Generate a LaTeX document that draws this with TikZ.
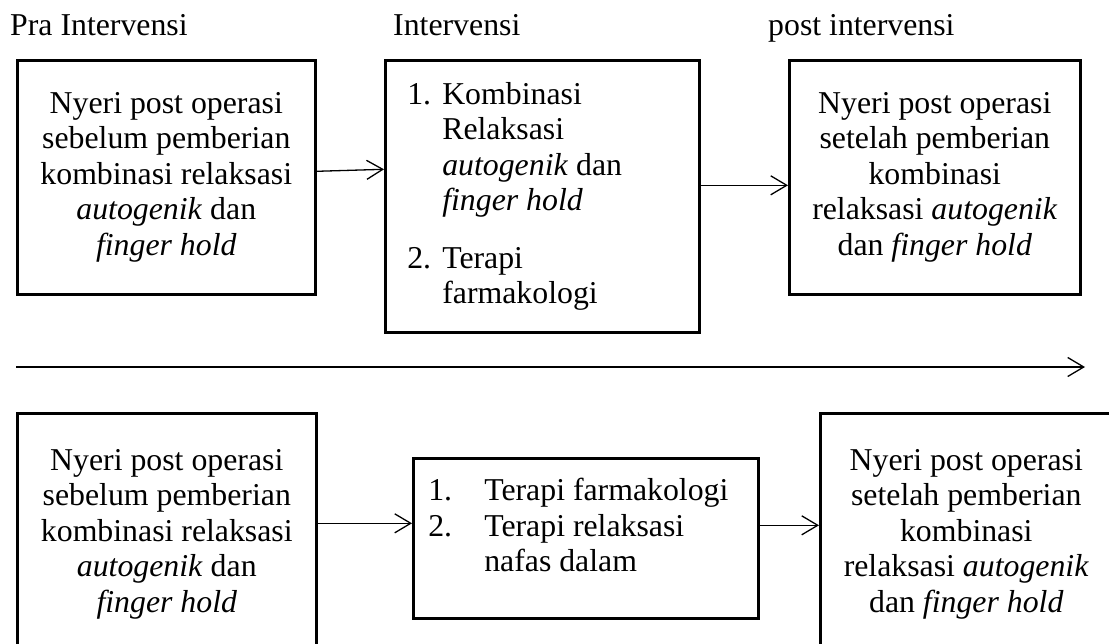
\documentclass[tikz,border=0pt]{standalone}
\usepackage{fontspec}
\setmainfont{Liberation Serif}
\usetikzlibrary{arrows.meta,positioning}
\newcommand{\lnum}[2]{\makebox[#1][l]{#2}}

\begin{document}
\begin{tikzpicture}[x=1pt, y=-1pt, every node/.style={font=\fontsize{31.8}{35.5}\selectfont},
  box/.style={draw, line width=2.6pt, align=flush center, inner sep=0pt, anchor=north west},
  lbl/.style={anchor=base west, inner sep=0pt},
  arr/.style={-{Straight Barb[length=16pt, width=19pt, line width=1.3pt]}, line width=1.3pt}]
\useasboundingbox (0,0) rectangle (1109,643);
\clip (0,0) rectangle (1109,643);
% phase titles
\node[lbl] (tpra) at (10,35) {Pra Intervensi};
\node[lbl] (tint) at (393,35) {Intervensi};
\node[lbl] (tpost) at (768,35) {post intervensi};
% upper row
\node[box, minimum width=298, minimum height=234] (pra) at (16,59)
  {Nyeri post operasi\\sebelum pemberian\\kombinasi relaksasi\\\textit{autogenik} dan\\\textit{finger hold}};
\node[box, minimum height=272, text width=270, inner xsep=22pt, align=flush left] (int) at (384,59)
  {\lnum{35pt}{1.}Kombinasi\\\hspace*{35pt}Relaksasi\\\hspace*{35pt}\textit{autogenik} dan\\
   \hspace*{35pt}\textit{finger hold}\\[22pt]
   \lnum{35pt}{2.}Terapi\\\hspace*{35pt}farmakologi};
\node[box, minimum width=291, minimum height=234] (post) at (788,59)
  {Nyeri post operasi\\setelah pemberian\\kombinasi\\relaksasi \textit{autogenik}\\dan \textit{finger hold}};
% time line
\coordinate (t0) at (16,367);
\coordinate (t1) at (1085,367);
% lower row
\node[box, minimum width=299, minimum height=242] (kpra) at (16,412)
  {Nyeri post operasi\\sebelum pemberian\\kombinasi relaksasi\\\textit{autogenik} dan\\\textit{finger hold}};
\node[box, minimum height=160, text width=315, inner xsep=15pt, align=flush left] (kint) at (412,457)
  {\lnum{56pt}{1.}Terapi farmakologi\\\lnum{56pt}{2.}Terapi relaksasi\\
   \hspace*{56pt}nafas dalam\rule[-27pt]{0pt}{1pt}};
\node[box, minimum width=292, minimum height=242] (kpost) at (819,412)
  {Nyeri post operasi\\setelah pemberian\\kombinasi\\relaksasi \textit{autogenik}\\dan \textit{finger hold}};
\draw[arr] ([yshift=6pt]pra.east) -- ([yshift=27pt]int.west);
\draw[arr] ([yshift=11pt]int.east) -- ([yshift=-8pt]post.west);
\draw[arr] (t0) -- (t1);
\draw[arr] ([yshift=11pt]kpra.east) -- ([yshift=15pt]kint.west);
\draw[arr] ([yshift=13pt]kint.east) -- ([yshift=9pt]kpost.west);
\end{tikzpicture}
\end{document}
